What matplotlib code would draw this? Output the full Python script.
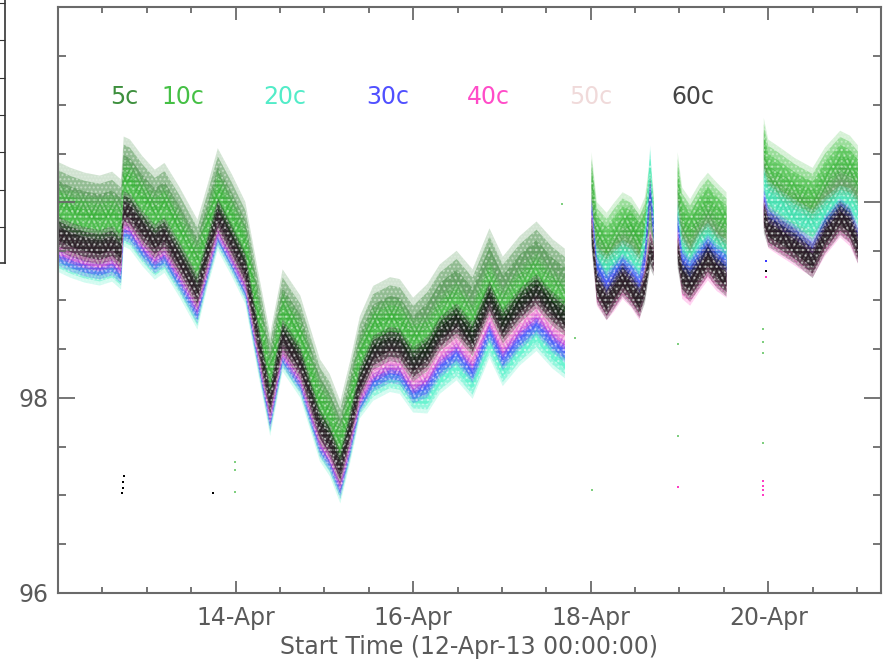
import numpy as np
import matplotlib
matplotlib.use('Agg')
import matplotlib.pyplot as plt

nan = np.nan

# time in days since 12-Apr-13 00:00, one list per data segment
t1 = [0.00, 0.14, 0.30, 0.47, 0.61, 0.71, 0.74, 0.81, 0.95, 1.09, 1.20, 1.37, 1.57,
      1.68, 1.80, 1.96, 2.11, 2.25, 2.39, 2.53, 2.73, 2.95, 3.06, 3.18, 3.29, 3.40,
      3.55, 3.74, 3.85, 4.00, 4.16, 4.30, 4.49, 4.67, 4.86, 5.01, 5.20, 5.39, 5.57, 5.71]
t2 = [6.01, 6.07, 6.18, 6.27, 6.36, 6.46, 6.55, 6.61, 6.67, 6.71]
t3 = [6.98, 7.03, 7.12, 7.23, 7.32, 7.42, 7.53]
t4 = [7.95, 8.00, 8.13, 8.30, 8.50, 8.64, 8.81, 8.92, 9.01]
time = t1 + [nan] + t2 + [nan] + t3 + [nan] + t4

# band centre of each channel (nan = gap between segments)
c5 = [100.09, 100.03, 99.98, 99.95, 99.99, 99.91, 100.35, 100.32, 100.15, 100.01, 100.08, 99.83, 99.50,
      99.84, 100.23, 99.96, 99.68, 98.99, 98.33, 98.99, 98.72, 98.07, 97.92, 97.64, 98.05, 98.51,
      98.82, 98.91, 98.89, 98.70, 98.84, 99.04, 99.18, 98.99, 99.41, 99.12, 99.33, 99.48, 99.30, 99.20,
      nan, 100.11, 99.55, 99.42, 99.50, 99.60, 99.65, 99.55, 99.60, 99.91, 99.70,
      nan, 100.01, 99.70, 99.60, 99.72, 99.81, 99.72, 99.65,
      nan, 100.42, 100.13, 100.06, 99.96, 99.89, 100.06, 100.23, 100.21, 100.11]
c10 = [99.94, 99.88, 99.83, 99.80, 99.84, 99.76, 100.20, 100.17, 100.00, 99.86, 99.93, 99.68, 99.35,
       99.70, 100.09, 99.82, 99.54, 98.85, 98.19, 98.85, 98.58, 97.93, 97.78, 97.50, 97.91, 98.37,
       98.68, 98.77, 98.75, 98.56, 98.60, 98.80, 98.94, 98.75, 99.17, 98.88, 99.09, 99.24, 99.06, 98.96,
       nan, 100.27, 99.76, 99.65, 99.76, 99.86, 99.81, 99.68, 99.81, 100.21, 99.86,
       nan, 100.27, 99.91, 99.79, 99.96, 100.06, 99.96, 99.86,
       nan, 100.62, 100.40, 100.32, 100.21, 100.11, 100.32, 100.49, 100.44, 100.34]
c20 = [99.45, 99.39, 99.34, 99.31, 99.35, 99.27, 99.71, 99.68, 99.51, 99.37, 99.44, 99.19, 98.86,
       99.28, 99.67, 99.40, 99.12, 98.43, 97.77, 98.43, 98.16, 97.51, 97.36, 97.08, 97.49, 97.95,
       98.13, 98.22, 98.20, 98.01, 98.00, 98.20, 98.34, 98.15, 98.57, 98.28, 98.49, 98.64, 98.46, 98.36,
       nan, 99.81, 99.38, 99.30, 99.38, 99.45, 99.40, 99.30, 99.60, 100.42, 99.81,
       nan, 99.86, 99.50, 99.38, 99.55, 99.63, 99.52, 99.45,
       nan, 100.21, 100.06, 99.96, 99.86, 99.76, 99.89, 100.01, 99.98, 99.89]
c30 = [99.50, 99.44, 99.39, 99.36, 99.40, 99.32, 99.76, 99.73, 99.56, 99.42, 99.49, 99.24, 98.91,
       99.32, 99.71, 99.44, 99.16, 98.47, 97.81, 98.47, 98.20, 97.55, 97.40, 97.12, 97.53, 97.99,
       98.21, 98.30, 98.28, 98.09, 98.15, 98.35, 98.49, 98.30, 98.72, 98.43, 98.64, 98.79, 98.61, 98.51,
       nan, 99.91, 99.30, 99.14, 99.24, 99.32, 99.24, 99.14, 99.40, 100.11, 99.70,
       nan, 99.76, 99.38, 99.28, 99.42, 99.52, 99.42, 99.35,
       nan, 100.01, 99.81, 99.72, 99.62, 99.48, 99.72, 99.89, 99.81, 99.62]
c40 = [99.58, 99.52, 99.47, 99.44, 99.48, 99.40, 99.84, 99.81, 99.64, 99.50, 99.57, 99.32, 98.99,
       99.38, 99.77, 99.50, 99.22, 98.53, 97.87, 98.53, 98.26, 97.61, 97.46, 97.18, 97.59, 98.05,
       98.31, 98.40, 98.38, 98.19, 98.28, 98.48, 98.62, 98.43, 98.85, 98.56, 98.77, 98.92, 98.74, 98.64,
       nan, 99.81, 99.09, 98.94, 99.04, 99.16, 99.07, 98.94, 99.19, 99.60, 99.42,
       nan, 99.60, 99.16, 99.09, 99.24, 99.35, 99.24, 99.17,
       nan, 99.91, 99.68, 99.60, 99.50, 99.38, 99.60, 99.79, 99.70, 99.52]
c50 = [99.62, 99.56, 99.51, 99.48, 99.52, 99.44, 99.88, 99.85, 99.68, 99.54, 99.61, 99.36, 99.03,
       99.42, 99.81, 99.54, 99.26, 98.57, 97.91, 98.57, 98.30, 97.65, 97.50, 97.22, 97.63, 98.09,
       98.35, 98.44, 98.42, 98.23, 98.32, 98.52, 98.66, 98.47, 98.89, 98.60, 98.81, 98.96, 98.78, 98.68,
       nan, 99.76, 99.12, 98.96, 99.07, 99.19, 99.09, 98.97, 99.17, 99.55, 99.42,
       nan, 99.55, 99.20, 99.12, 99.27, 99.38, 99.27, 99.19,
       nan, 99.88, 99.70, 99.62, 99.52, 99.39, 99.62, 99.81, 99.73, 99.53]
c60 = [99.68, 99.62, 99.57, 99.54, 99.58, 99.50, 99.94, 99.91, 99.74, 99.60, 99.67, 99.42, 99.09,
       99.48, 99.87, 99.60, 99.32, 98.63, 97.97, 98.63, 98.36, 97.71, 97.56, 97.28, 97.69, 98.15,
       98.46, 98.55, 98.53, 98.34, 98.45, 98.65, 98.79, 98.60, 99.02, 98.73, 98.94, 99.09, 98.91, 98.81,
       nan, 99.70, 99.14, 98.97, 99.09, 99.21, 99.11, 98.99, 99.14, 99.50, 99.42,
       nan, 99.50, 99.24, 99.16, 99.30, 99.42, 99.30, 99.21,
       nan, 99.86, 99.72, 99.65, 99.55, 99.40, 99.65, 99.84, 99.76, 99.55]

labels = ['5c', '10c', '20c', '30c', '40c', '50c', '60c']
scatter_width = [0.24, 0.18, 0.12, 0.11, 0.11, 0.10, 0.13]   # half width of each point cloud

# isolated points well below the bands
stray_t = [0.72, 0.73, 0.73, 0.74, 1.75, 1.99, 1.99, 1.99, 5.68, 5.82, 6.01, 6.98, 6.98, 6.98,
           7.94, 7.94, 7.94, 7.94, 7.94, 7.94, 7.94, 7.94, 7.98, 7.98, 7.98]
stray_v = [97.02, 97.08, 97.14, 97.20, 97.02, 97.26, 97.34, 97.03, 99.98, 98.61, 97.05, 98.55, 97.61, 97.09,
           98.70, 98.57, 98.46, 97.54, 97.15, 97.10, 97.05, 97.00, 99.40, 99.30, 99.24]
stray_c = ['k', 'k', 'k', 'k', 'k', 'g', 'g', 'g', 'g', 'g', 'g', 'g', 'g', 'm',
           'g', 'g', 'g', 'g', 'm', 'm', 'm', 'm', 'b', 'k', 'm']

day_ticks = [2, 4, 6, 8]
day_labels = ['14-Apr', '16-Apr', '18-Apr', '20-Apr']

cols = ['#2a7d2a', '#2dbb2d', '#3ff0c4', '#3a3aff', '#ff3cc4', '#f3dede', '#000000']
txt_cols = ['#3d8f3d', '#45c045', '#52ecc8', '#5050ff', '#ff4cc8', '#f0dada', '#454545']
alphas = [0.7, 0.65, 0.8, 0.8, 0.8, 0.5, 0.85]
stray_map = {'k': '#000000', 'g': '#7fcf7f', 'm': '#ff3cc4', 'b': '#3a3aff'}
grey = '#6a6a6a'

plt.rcParams['font.family'] = 'DejaVu Sans'
plt.rcParams['hatch.linewidth'] = 1.0

fig = plt.figure(figsize=(8.91, 6.68), dpi=100)
ax = fig.add_axes([58/891, 75/668, 823/891, 586/668])

# each cloud drawn as a soft outer fringe plus a denser core
t = np.array(time)
for vals, w, c, a in zip([c5, c10, c20, c30, c40, c50, c60], scatter_width, cols, alphas):
    v = np.array(vals)
    ax.fill_between(t, v - 1.35 * w, v + 1.35 * w, facecolor=c, edgecolor='white', hatch='.....',
                    linewidth=0, alpha=a * 0.3)
    ax.fill_between(t, v - w, v + w, facecolor=c, edgecolor='white', hatch='....',
                    linewidth=0, alpha=a * 0.55)
    ax.fill_between(t, v - 0.55 * w, v + 0.55 * w, facecolor=c, edgecolor='white', hatch='...',
                    linewidth=0, alpha=a * 0.6)

for tt, vv, cc in zip(stray_t, stray_v, stray_c):
    ax.plot(tt, vv, ls='none', marker='s', ms=1.5, mew=0, color=stray_map[cc])

# channel labels across the top
lab_x = [0.063, 0.126, 0.249, 0.374, 0.497, 0.621, 0.745]
for lx, lab, c in zip(lab_x, labels, txt_cols):
    ax.text(lx, 0.846, lab, transform=ax.transAxes, color=c, fontsize=17, va='center', ha='left')

ax.set_xlim(0, 9.27)
ax.set_ylim(96, 102)
ax.set_xticks(day_ticks, day_labels)
ax.set_xticks(np.arange(0.5, 9.3, 0.5), minor=True)
ax.set_yticks([96, 98, 100, 102], ['96', '98', '', ''])
ax.set_yticks(np.arange(96, 102.1, 0.5), minor=True)
ax.tick_params(which='both', direction='in', top=True, right=True, color=grey,
               labelcolor='#5a5a5a', labelsize=17, width=1.3)
ax.tick_params(axis='x', which='major', length=9, pad=9)
ax.tick_params(axis='x', which='minor', length=4.5)
ax.tick_params(axis='y', which='major', length=12, pad=7)
ax.tick_params(axis='y', which='minor', length=6)
for s in ax.spines.values():
    s.set_color(grey)
    s.set_linewidth(1.5)
ax.set_xlabel('Start Time (12-Apr-13 00:00:00)', fontsize=17, color='#5a5a5a', labelpad=4)

# edge of a neighbouring panel poking in at the top left
ax2 = fig.add_axes([0, (668-263)/668, 5/891, 263/668])
ax2.set_xlim(0, 1)
ax2.set_ylim(0.035, 7.085)
ax2.set_yticks(np.arange(1, 8))
ax2.set_xticks([])
ax2.yaxis.tick_right()
ax2.tick_params(axis='y', direction='in', length=5, color='#333', labelright=False)
ax2.spines['left'].set_visible(False)
ax2.spines['top'].set_visible(False)
for s in ['right', 'bottom']:
    ax2.spines[s].set_color('#333')
    ax2.spines[s].set_linewidth(1.2)

fig.savefig('out.png', dpi=100)
